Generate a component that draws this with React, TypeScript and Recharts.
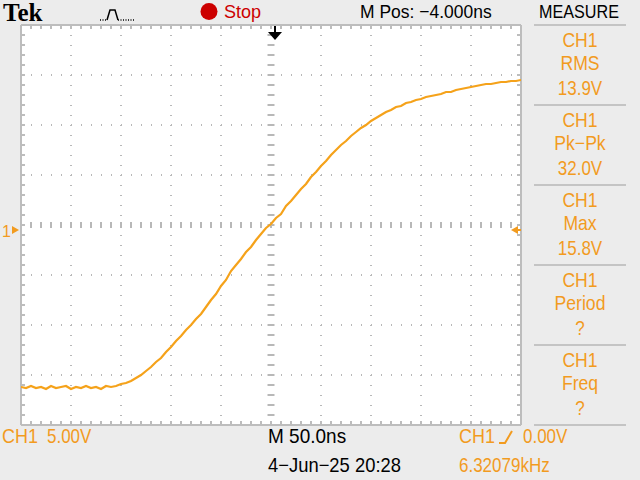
import React from 'react';
import { LineChart, Line, XAxis, YAxis, CartesianGrid, ReferenceLine } from 'recharts';

// time in ns relative to screen centre, volts (CH1, 5 V/div)
const traceTimes = [
  -250, -245, -240, -235, -230, -225, -220, -215, -210, -205,
  -200, -195, -190, -185, -180, -175, -170, -165, -160, -155,
  -150, -145, -140, -135, -130, -125, -120, -115, -110, -105,
  -100, -95, -90, -85, -80, -75, -70, -65, -60, -55,
  -50, -45, -40, -35, -30, -25, -20, -15, -10, -5,
  0, 5, 10, 15, 20, 25, 30, 35, 40, 45,
  50, 55, 60, 65, 70, 75, 80, 85, 90, 95,
  100, 105, 110, 115, 120, 125, 130, 135, 140, 145,
  150, 155, 160, 165, 170, 175, 180, 185, 190, 195,
  200, 205, 210, 215, 220, 225, 230, 235, 240, 245,
  250,
];
const traceVolts = [
  -15.7, -15.8, -15.6, -15.8, -15.7, -15.9, -15.6, -15.8, -15.7, -15.6,
  -15.9, -15.7, -15.8, -15.6, -15.8, -15.7, -15.9, -15.6, -15.7, -15.6,
  -15.4, -15.3, -15.1, -14.8, -14.5, -14.1, -13.7, -13.2, -12.8, -12.2,
  -11.7, -11.1, -10.6, -10.0, -9.5, -8.9, -8.4, -7.7, -7.0, -6.4,
  -5.6, -5.0, -4.1, -3.5, -2.9, -2.2, -1.7, -1.0, -0.4, 0.2,
  0.6, 1.2, 1.6, 2.4, 2.9, 3.5, 4.1, 4.6, 5.3, 5.8,
  6.4, 6.9, 7.5, 8.0, 8.5, 8.9, 9.4, 9.8, 10.2, 10.5,
  10.9, 11.2, 11.5, 11.8, 12.0, 12.3, 12.4, 12.7, 12.8, 13.0,
  13.1, 13.3, 13.4, 13.5, 13.6, 13.8, 13.8, 14.0, 14.1, 14.2,
  14.3, 14.4, 14.5, 14.6, 14.6, 14.7, 14.8, 14.8, 14.9, 14.9,
  15.0,
];

const timeDomain: [number, number] = [-250, 250];
const voltDomain: [number, number] = [-19.5, 20.5];
const divisionTimes = [-250, -200, -150, -100, -50, 0, 50, 100, 150, 200, 250];
const divisionVolts = [-19.5, -14.5, -9.5, -4.5, 0.5, 5.5, 10.5, 15.5, 20.5];
const minorTimes = [
  -250, -240, -230, -220, -210, -200, -190, -180, -170, -160, -150, -140, -130,
  -120, -110, -100, -90, -80, -70, -60, -50, -40, -30, -20, -10, 0, 10, 20, 30,
  40, 50, 60, 70, 80, 90, 100, 110, 120, 130, 140, 150, 160, 170, 180, 190, 200,
  210, 220, 230, 240, 250,
];
const minorVolts = [
  -19.5, -18.5, -17.5, -16.5, -15.5, -14.5, -13.5, -12.5, -11.5, -10.5, -9.5,
  -8.5, -7.5, -6.5, -5.5, -4.5, -3.5, -2.5, -1.5, -0.5, 0.5, 1.5, 2.5, 3.5, 4.5,
  5.5, 6.5, 7.5, 8.5, 9.5, 10.5, 11.5, 12.5, 13.5, 14.5, 15.5, 16.5, 17.5, 18.5,
  19.5, 20.5,
];
const centreTime = 0;
const centreVolt = 0.5;

const measureTitles = ['CH1', 'CH1', 'CH1', 'CH1', 'CH1'];
const measureNames = ['RMS', 'Pk\u2212Pk', 'Max', 'Period', 'Freq'];
const measureValues = ['13.9V', '32.0V', '15.8V', '?', '?'];

const TRACE = '#f5a21a';
const ORANGE = '#f29b1f';
const BORDER = '#bdbdbd';
const GRID = '#b8b8b8';
const FONT = '"Liberation Sans", Arial, sans-serif';

function T(props: {
  x: number;
  y: number;
  s?: number;
  sx?: number;
  fill: string;
  anchor?: 'start' | 'middle' | 'end';
  children: React.ReactNode;
}) {
  const { x, y, s = 20, sx = 0.88, fill, anchor = 'start', children } = props;
  return (
    <text
      transform={`translate(${x},${y}) scale(${sx},1)`}
      fontSize={s}
      fill={fill}
      textAnchor={anchor}
    >
      {children}
    </text>
  );
}

export default function App() {
  const data = traceTimes.map((t, i) => ({ t, v: traceVolts[i] }));
  const [t0, t1] = timeDomain;
  const [v0, v1] = voltDomain;
  const tickT = 4; // border tick length in ns (1 px per ns)
  const tickV = 0.4; // border tick length in V (10 px per V)
  const seg = (key: string, a: { x: number; y: number }, b: { x: number; y: number }, color = BORDER) => (
    <ReferenceLine key={key} segment={[a, b]} stroke={color} strokeWidth={2} ifOverflow="visible" />
  );
  return (
    <div
      style={{
        position: 'fixed',
        left: 0,
        top: 0,
        width: 640,
        height: 480,
        background: '#ececec',
        overflow: 'hidden',
      }}
    >
      {/* white screen area behind the plot */}
      <div style={{ position: 'absolute', left: 21, top: 25, width: 500, height: 400, background: '#ffffff' }} />
      <div style={{ position: 'absolute', left: 0, top: 0 }}>
        <LineChart
          width={640}
          height={480}
          data={data}
          margin={{ top: 25, right: 119, bottom: 55, left: 21 }}
        >
          <CartesianGrid stroke={GRID} strokeWidth={2} strokeDasharray="1 9" />
          <XAxis dataKey="t" type="number" domain={timeDomain} ticks={divisionTimes} interval={0} hide allowDataOverflow />
          <YAxis type="number" domain={voltDomain} ticks={divisionVolts} interval={0} hide allowDataOverflow />
          {/* centre graticule minor ticks */}
          {minorTimes.map((t) =>
            seg('ct' + t, { x: t, y: centreVolt - 0.3 }, { x: t, y: centreVolt + 0.3 }, GRID)
          )}
          {minorVolts.map((v) =>
            seg('cv' + v, { x: centreTime - 3.5, y: v }, { x: centreTime + 3.5, y: v }, GRID)
          )}
          {/* border ticks */}
          {minorTimes.map((t) => seg('bt' + t, { x: t, y: v0 }, { x: t, y: v0 + tickV }))}
          {minorTimes.map((t) => seg('tt' + t, { x: t, y: v1 }, { x: t, y: v1 - tickV }))}
          {minorVolts.map((v) => seg('lv' + v, { x: t0, y: v }, { x: t0 + tickT, y: v }))}
          {minorVolts.map((v) => seg('rv' + v, { x: t1, y: v }, { x: t1 - tickT, y: v }))}
          {/* border */}
          {seg('bL', { x: t0, y: v0 }, { x: t0, y: v1 })}
          {seg('bR', { x: t1, y: v0 }, { x: t1, y: v1 })}
          {seg('bT', { x: t0, y: v1 }, { x: t1, y: v1 })}
          {seg('bB', { x: t0, y: v0 }, { x: t1, y: v0 })}
          <Line
            dataKey="v"
            type="linear"
            stroke={TRACE}
            strokeWidth={2.2}
            dot={false}
            activeDot={false}
            isAnimationActive={false}
          />
        </LineChart>
      </div>
      <svg
        width={640}
        height={480}
        style={{ position: 'absolute', left: 0, top: 0, pointerEvents: 'none' }}
        fontFamily={FONT}
      >
        {/* top bar */}
        <text x={3} y={21} fontFamily='"Liberation Serif", "DejaVu Serif", serif' fontWeight="bold" fontSize={25} fill="#000">
          Tek
        </text>
        <path d="M100 20 L107 20" stroke="#000" strokeWidth={1.5} strokeDasharray="1 1.5" fill="none" />
        <path d="M107 20 L110 10 L115 10 L118 20" stroke="#000" strokeWidth={1.5} fill="none" />
        <path d="M118 20 L135 20" stroke="#000" strokeWidth={1.5} strokeDasharray="1 1.5" fill="none" />
        <circle cx={209} cy={11.5} r={8.5} fill="#cc0000" />
        <T x={224} y={18} s={19} sx={0.95} fill="#cc0000">Stop</T>
        <T x={360} y={18} s={19} sx={0.92} fill="#000">M Pos: {'\u2212'}4.000ns</T>
        <T x={579} y={18} s={19} sx={0.85} fill="#000" anchor="middle">MEASURE</T>

        {/* trigger position marker */}
        <path d="M275 26 L275 33" stroke="#000" strokeWidth={2} />
        <path d="M268 32 L282 32 L275 40 Z" fill="#000" />

        {/* ch1 ground marker */}
        <text x={2} y={237} fontSize={16} fill={ORANGE}>1</text>
        <path d="M12 226 L19 230 L12 234 Z" fill={ORANGE} />
        {/* trigger level marker */}
        <path d="M511 230 L518 226 L518 234 Z" fill={ORANGE} />
        <path d="M517 230 L521 230" stroke={ORANGE} strokeWidth={2} />

        {/* measure panel */}
        {[25, 105, 185, 265, 345, 425].map((y) => (
          <line key={y} x1={534} x2={626} y1={y} y2={y} stroke="#c4c4c4" strokeWidth={2} />
        ))}
        {measureTitles.map((t, i) => (
          <g key={i}>
            <T x={580} y={47 + i * 80} fill={ORANGE} anchor="middle">{t}</T>
            <T x={580} y={70 + i * 80} fill={ORANGE} anchor="middle">{measureNames[i]}</T>
            <T x={580} y={95 + i * 80} fill={ORANGE} anchor="middle" sx={0.85}>{measureValues[i]}</T>
          </g>
        ))}

        {/* bottom */}
        <T x={2} y={443} sx={0.9} fill={ORANGE}>CH1</T>
        <T x={47} y={443} sx={0.85} fill={ORANGE}>5.00V</T>
        <T x={268} y={443} sx={0.95} fill="#000">M 50.0ns</T>
        <T x={268} y={472} sx={0.92} fill="#000">4{'\u2212'}Jun{'\u2212'}25 20:28</T>
        <T x={459} y={443} sx={0.9} fill={ORANGE}>CH1</T>
        <path d="M499 443 L505 443 L512 431" stroke={ORANGE} strokeWidth={2} fill="none" />
        <T x={523} y={443} sx={0.85} fill={ORANGE}>0.00V</T>
        <T x={459} y={472} sx={0.85} fill={ORANGE}>6.32079kHz</T>
      </svg>
    </div>
  );
}
